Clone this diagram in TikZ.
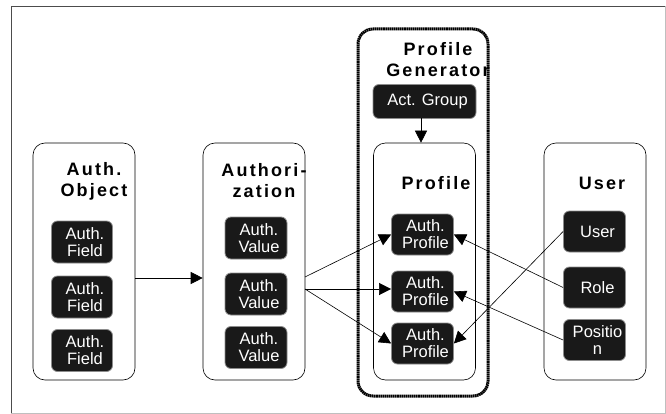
\documentclass[tikz,border=0pt]{standalone}
\usepackage{fontspec}
\usetikzlibrary{arrows.meta,calc}
\newfontfamily\titlefont[LetterSpace=12]{Liberation Sans Bold}
\newfontfamily\boxfont{Liberation Sans}
\tikzset{
  col/.style={draw=black, line width=0.6pt, rounded corners=12pt, fill=white, minimum width=102pt, minimum height=237pt, inner sep=0pt},
  genbox/.style={draw=black, line width=3pt, dash pattern={on 1.6pt off 0.5pt}, rounded corners=15pt, minimum width=130pt, minimum height=367pt, inner sep=0pt},
  blk/.style={fill=black!90, draw=black!45, line width=0.8pt, rounded corners=6pt, minimum width=62pt, minimum height=42pt, inner sep=0pt},
  wt/.style={text=white, font=\boxfont\fontsize{16.5}{17}\selectfont, align=center, inner sep=0pt, xshift=3pt},
  ttl/.style={font=\titlefont\fontsize{18}{21}\selectfont, align=center, inner sep=0pt},
  arr/.style={draw=black, line width=0.6pt, -{Triangle[length=12pt,width=12pt]}}
}
\begin{document}
\begin{tikzpicture}[x=1pt,y=-1pt]
\useasboundingbox (0,0) rectangle (666,414);
% outer frame
\draw[black!70, line width=0.9pt] (11,414) -- (11,6) -- (666,6);
\draw[black!25, line width=0.9pt] (11,413) -- (665.5,413) -- (665.5,6);

% columns
\node[col] (obj) at (84,261.5) {};
\node[col] (authz) at (254,261.5) {};
\node[col] (prof) at (424.5,261.5) {};
\node[col] (user) at (595,261.5) {};

% titles
\node[ttl] at (94,181) {Auth.\\Object};
\node[ttl] at (264,181) {Authori-\\zation};
\node[ttl] at (438,60) {Profile\\Generator};
\node[ttl] at (436,183) {Profile};
\node[ttl] at (602,183) {User};

% profile generator frame (drawn over its title)
\node[genbox] (gen) at (423,212.5) {};

% activity group
\node[blk, minimum width=103pt, minimum height=34pt] (ag) at (424.5,101.5) {};
\node[wt] at (ag) {Act. Group};

% auth fields
\node[blk, minimum width=61pt] (f1) at (82,242) {};
\node[wt] at (f1) {Auth.\\Field};
\node[blk, minimum width=61pt] (f2) at (82,297) {};
\node[wt] at (f2) {Auth.\\Field};
\node[blk, minimum width=61pt] (f3) at (82,350.5) {};
\node[wt] at (f3) {Auth.\\Field};

% auth values
\node[blk] (v1) at (256,238) {};
\node[wt] at (v1) {Auth.\\Value};
\node[blk] (v2) at (256,294) {};
\node[wt] at (v2) {Auth.\\Value};
\node[blk] (v3) at (256,347.5) {};
\node[wt] at (v3) {Auth.\\Value};

% auth profiles
\node[blk, minimum height=41pt] (p1) at (422.5,234.5) {};
\node[wt] at (p1) {Auth.\\Profile};
\node[blk, minimum height=41pt] (p2) at (422.5,291.5) {};
\node[wt] at (p2) {Auth.\\Profile};
\node[blk, minimum height=41pt] (p3) at (422.5,343.5) {};
\node[wt] at (p3) {Auth.\\Profile};

% user side
\node[blk, minimum height=41pt] (u1) at (594.5,231.5) {};
\node[wt] at (u1) {User};
\node[blk, minimum height=41pt] (u2) at (594.5,287.5) {};
\node[wt] at (u2) {Role};
\node[blk, minimum height=41pt] (u3) at (594.5,340) {};
\node[wt] at (u3) {Positio\\n};

% connectors
\coordinate (a0) at (135,278);
\draw[arr] (a0) -- (a0 -| authz.west);
\coordinate (ags) at (421,118.5);
\draw[arr] (ags) -- (ags |- prof.north);
\coordinate (s1) at (305,277);
\coordinate (s2) at (305,289);
\draw[arr] (s1) -- (p1.west);
\draw[arr] (s2) -- (s2 -| p2.west);
\draw[arr] (s2) -- (p3.west);
\draw[arr] (u1.west) -- (p3.east);
\draw[arr] (u2.west) -- (p1.east);
\draw[arr] (u3.west) -- (p2.east);
\end{tikzpicture}
\end{document}
